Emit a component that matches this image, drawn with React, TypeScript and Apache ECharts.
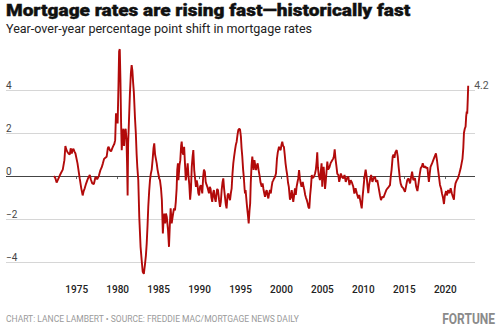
import React, { useEffect, useRef } from "react";
import * as echarts from "echarts";

const title = "Mortgage rates are rising fast—historically fast";
const subtitle = "Year-over-year percentage point shift in mortgage rates";
const footer = "CHART: LANCE LAMBERT • SOURCE: FREDDIE MAC/MORTGAGE NEWS DAILY";
const brand = "FORTUNE";

const xTicks = [1975, 1980, 1985, 1990, 1995, 2000, 2005, 2010, 2015, 2020];
const yTicks = [-4, -2, 0, 2, 4];

const years = [
  1972.24, 1972.4, 1972.55, 1972.7, 1972.9, 1973.05, 1973.3, 1973.5, 1973.62, 1973.72,
  1973.85, 1974.0, 1974.15, 1974.27, 1974.4, 1974.5, 1974.6, 1974.72, 1974.85, 1975.1,
  1975.37, 1975.56, 1975.73, 1975.85, 1975.98, 1976.15, 1976.3, 1976.45, 1976.6, 1976.72,
  1976.9, 1977.1, 1977.3, 1977.5, 1977.7, 1977.9, 1978.05, 1978.2, 1978.35, 1978.5,
  1978.66, 1978.8, 1978.9, 1979.05, 1979.2, 1979.35, 1979.47, 1979.6, 1979.7, 1979.8,
  1979.9, 1980.0, 1980.1, 1980.18, 1980.26, 1980.34, 1980.42, 1980.5, 1980.6, 1980.7,
  1980.78, 1980.88, 1980.98, 1981.08, 1981.15, 1981.22, 1981.28, 1981.35, 1981.5, 1981.62,
  1981.71, 1981.8, 1981.9, 1981.98, 1982.06, 1982.12, 1982.22, 1982.32, 1982.4, 1982.52,
  1982.64, 1982.8, 1982.93, 1983.06, 1983.2, 1983.34, 1983.45, 1983.55, 1983.65, 1983.74,
  1983.85, 1983.95, 1984.05, 1984.16, 1984.28, 1984.38, 1984.47, 1984.57, 1984.67, 1984.77,
  1984.87, 1984.96, 1985.08, 1985.17, 1985.3, 1985.4, 1985.52, 1985.6, 1985.7, 1985.8,
  1985.9, 1986.0, 1986.15, 1986.27, 1986.37, 1986.47, 1986.6, 1986.75, 1986.88, 1987.0,
  1987.1, 1987.2, 1987.28, 1987.36, 1987.42, 1987.55, 1987.65, 1987.75, 1987.82, 1987.92,
  1988.02, 1988.12, 1988.22, 1988.32, 1988.42, 1988.55, 1988.65, 1988.75, 1988.85, 1988.95,
  1989.05, 1989.15, 1989.24, 1989.35, 1989.45, 1989.56, 1989.66, 1989.75, 1989.85, 1989.95,
  1990.05, 1990.15, 1990.25, 1990.33, 1990.45, 1990.54, 1990.65, 1990.75, 1990.85, 1990.95,
  1991.05, 1991.15, 1991.25, 1991.35, 1991.45, 1991.55, 1991.65, 1991.75, 1991.85, 1991.97,
  1992.05, 1992.15, 1992.25, 1992.38, 1992.5, 1992.6, 1992.7, 1992.8, 1992.9, 1993.0,
  1993.1, 1993.2, 1993.3, 1993.42, 1993.52, 1993.62, 1993.72, 1993.82, 1993.92, 1994.02,
  1994.12, 1994.22, 1994.33, 1994.43, 1994.53, 1994.63, 1994.73, 1994.84, 1994.94, 1995.05,
  1995.13, 1995.22, 1995.32, 1995.4, 1995.5, 1995.55, 1995.62, 1995.7, 1995.8, 1995.9,
  1996.0, 1996.1, 1996.18, 1996.25, 1996.35, 1996.44, 1996.52, 1996.6, 1996.7, 1996.8,
  1996.9, 1996.97, 1997.1, 1997.2, 1997.35, 1997.45, 1997.59, 1997.7, 1997.8, 1997.9,
  1997.99, 1998.1, 1998.2, 1998.3, 1998.4, 1998.5, 1998.6, 1998.7, 1998.8, 1998.9,
  1999.0, 1999.1, 1999.2, 1999.33, 1999.45, 1999.55, 1999.7, 1999.8, 1999.9, 2000.0,
  2000.1, 2000.2, 2000.3, 2000.4, 2000.5, 2000.6, 2000.7, 2000.8, 2000.9, 2001.04,
  2001.15, 2001.25, 2001.35, 2001.44, 2001.55, 2001.65, 2001.75, 2001.85, 2001.95, 2002.05,
  2002.15, 2002.25, 2002.35, 2002.45, 2002.6, 2002.7, 2002.8, 2002.9, 2002.99, 2003.1,
  2003.2, 2003.3, 2003.4, 2003.5, 2003.6, 2003.7, 2003.8, 2003.97, 2004.1, 2004.2,
  2004.3, 2004.37, 2004.45, 2004.55, 2004.7, 2004.8, 2004.9, 2004.98, 2005.07, 2005.15,
  2005.25, 2005.32, 2005.4, 2005.5, 2005.6, 2005.7, 2005.85, 2006.0, 2006.15, 2006.3,
  2006.4, 2006.5, 2006.6, 2006.7, 2006.82, 2006.94, 2007.05, 2007.15, 2007.25, 2007.4,
  2007.55, 2007.7, 2007.85, 2008.0, 2008.16, 2008.3, 2008.45, 2008.6, 2008.77, 2008.9,
  2009.05, 2009.2, 2009.38, 2009.5, 2009.65, 2009.8, 2009.9, 2010.0, 2010.1, 2010.2,
  2010.28, 2010.4, 2010.52, 2010.6, 2010.7, 2010.85, 2010.95, 2011.1, 2011.25, 2011.42,
  2011.55, 2011.7, 2011.85, 2012.03, 2012.15, 2012.3, 2012.45, 2012.64, 2012.8, 2012.95,
  2013.1, 2013.25, 2013.35, 2013.45, 2013.58, 2013.68, 2013.8, 2013.9, 2014.07, 2014.2,
  2014.3, 2014.45, 2014.55, 2014.7, 2014.85, 2015.08, 2015.2, 2015.35, 2015.5, 2015.7,
  2015.85, 2015.95, 2016.1, 2016.3, 2016.45, 2016.6, 2016.75, 2016.85, 2017.0, 2017.15,
  2017.25, 2017.4, 2017.55, 2017.7, 2017.82, 2017.92, 2018.0, 2018.1, 2018.2, 2018.4,
  2018.55, 2018.7, 2018.86, 2019.0, 2019.12, 2019.23, 2019.35, 2019.5, 2019.6, 2019.72,
  2019.84, 2019.95, 2020.1, 2020.2, 2020.35, 2020.5, 2020.66, 2020.8, 2020.92, 2021.06,
  2021.15, 2021.25, 2021.4, 2021.55, 2021.7, 2021.88, 2022.0, 2022.1, 2022.2, 2022.28,
  2022.38, 2022.48, 2022.55, 2022.62, 2022.68, 2022.75, 2022.8,
];

const shift = [
  0.0, -0.1, -0.3, -0.18, 0.0, 0.12, 0.3, 0.74, 1.4, 1.25,
  1.13, 1.05, 1.0, 1.29, 1.05, 1.2, 1.27, 1.15, 1.05, 0.59,
  -0.11, -0.57, -0.9, -0.7, -0.57, -0.35, -0.19, -0.05, 0.05, -0.15,
  -0.34, -0.37, -0.03, -0.15, 0.0, 0.28, 0.4, 0.59, 0.8, 0.85,
  0.9, 1.29, 1.36, 1.2, 1.15, 1.3, 1.4, 1.5, 1.67, 2.92,
  2.6, 2.45, 4.2, 5.8, 5.9, 4.5, 2.5, 1.2, 1.9, 2.2,
  1.4, 2.0, 2.2, 1.7, 0.6, -0.9, 1.5, 2.2, 3.85, 4.8,
  5.16, 4.9, 4.3, 3.9, 3.2, 2.68, 2.0, 1.0, 0.43, -0.19,
  -1.89, -3.29, -3.9, -4.45, -4.55, -4.1, -3.7, -3.13, -2.3, -1.43,
  -0.7, -0.19, 0.1, 0.3, 0.8, 1.3, 1.52, 1.0, 0.8, 0.59,
  0.3, 0.12, -0.1, -0.2, -0.6, -1.12, -2.67, -2.1, -1.74, -2.2,
  -1.74, -1.9, -2.5, -3.29, -2.3, -1.5, -2.2, -1.8, -1.5, -1.6,
  -1.2, -0.6, 0.3, 0.59, -0.19, 0.5, 0.74, 1.4, 1.6, 1.1,
  1.0, 1.36, 0.59, -0.2, 0.1, 0.59, 0.0, -0.4, -1.1, -0.65,
  0.43, 0.9, 1.21, 0.28, -0.1, -0.5, -0.2, -0.4, -0.8, -0.9,
  -0.5, -0.42, -0.6, -0.81, 0.0, 0.3, 0.2, -0.27, -0.4, -0.5,
  -0.65, -0.8, -0.5, -0.6, -1.0, -1.2, -0.8, -0.65, -1.0, -1.2,
  -0.9, -0.6, -0.65, -1.1, -1.43, -1.2, -0.65, -0.3, -0.11, -0.6,
  -0.96, -1.3, -1.5, -0.9, -0.81, -1.0, -1.12, -0.8, -0.57, 0.1,
  0.59, 0.9, 1.21, 1.45, 1.6, 1.9, 2.14, 2.2, 2.17, 1.83,
  1.3, 0.9, 0.3, -0.03, -0.6, -0.81, -0.65, -1.0, -1.43, -1.8,
  -2.2, -1.6, -1.27, -0.34, 0.5, 0.9, 0.6, 0.28, 0.74, 0.5,
  0.28, 0.45, 0.59, 0.3, -0.03, -0.3, -0.5, -0.34, -0.6, -0.8,
  -0.96, -0.75, -0.65, -0.9, -1.04, -0.8, -0.65, -0.81, -0.5, -0.27,
  -0.2, -0.11, -0.05, 0.12, 0.8, 1.1, 1.36, 1.25, 1.21, 1.45,
  1.6, 1.4, 1.36, 1.0, 0.59, 0.3, 0.05, -0.3, -0.5, -1.1,
  -1.0, -0.65, -0.9, -1.2, -0.9, -0.57, -0.88, -0.5, -0.3, -0.11,
  0.28, -0.1, -0.34, -0.5, -0.27, -0.5, -0.65, -0.88, -1.0, -1.12,
  -1.27, -1.45, -1.5, -0.9, -0.5, 0.05, -0.1, -0.03, 0.12, 0.3,
  0.7, 1.1, 0.4, 0.05, -0.19, 0.2, 0.59, -0.5, 0.2, 0.43,
  -0.1, -0.6, -0.3, 0.2, 0.67, 0.3, 0.4, 0.6, 0.7, 0.8,
  0.9, 1.24, 0.8, 0.5, 0.1, 0.05, -0.27, -0.1, 0.12, -0.05,
  -0.11, 0.05, -0.27, -0.1, -0.03, -0.42, -0.19, -0.3, -0.5, -0.81,
  -0.57, -0.8, -1.04, -0.88, -1.2, -1.5, -1.0, -0.6, -0.19, 0.1,
  0.3, -0.03, -0.5, -0.8, -0.42, -0.1, 0.05, -0.27, -0.1, -0.03,
  -0.27, -0.19, -0.5, -0.9, -1.12, -0.96, -1.0, -0.81, -0.65, -0.57,
  -0.5, -0.42, 0.0, 0.3, 0.9, 1.0, 0.85, 1.1, 1.21, 0.9,
  0.45, -0.1, -0.34, -0.5, -0.55, -0.73, -0.5, -0.2, -0.11, -0.34,
  0.0, 0.2, -0.19, -0.1, -0.5, -0.7, -0.3, 0.0, 0.36, 0.45,
  0.59, 0.4, 0.45, 0.36, 0.4, 0.0, -0.27, 0.1, 0.43, 0.6,
  0.75, 0.9, 1.05, 0.7, 0.3, -0.03, -0.4, -0.6, -0.81, -1.0,
  -1.3, -0.9, -0.7, -0.9, -0.65, -0.8, -0.57, -0.8, -0.95, -1.1,
  -0.6, -0.34, -0.2, -0.1, 0.1, 0.36, 0.6, 0.8, 1.3, 2.0,
  2.2, 2.3, 2.76, 3.0, 2.9, 3.6, 4.2,
];

const fmtY = (v: number) => (v < 0 ? "\u2212" + Math.abs(v) : String(v));

export default function App() {
  const ref = useRef<HTMLDivElement>(null);
  useEffect(() => {
    if (!ref.current) return;
    const chart = echarts.init(ref.current, null, { renderer: "svg" });
    const data = years.map((y, i) => [y, shift[i]]);
    const gridColor = "#d6d6d6";
    chart.setOption({
      animation: false,
      grid: { left: 6, right: 26, top: 47, bottom: 54 },
      graphic: [
        {
          type: "text",
          x: 6,
          y: 1,
          scaleX: 1.12,
          style: {
            text: title,
            font: "900 17px Roboto",
            fill: "#111",
            stroke: "#111",
            lineWidth: 0.4,
            align: "left",
            verticalAlign: "top",
          },
        },
        {
          type: "text",
          x: 6,
          y: 22,
          scaleX: 0.965,
          style: {
            text: subtitle,
            font: "13px Roboto",
            fill: "#222",
            align: "left",
            verticalAlign: "top",
          },
        },
        {
          type: "text",
          x: 6,
          y: 314,
          style: {
            text: footer,
            font: "8.5px Roboto",
            fill: "#9a9a9a",
            align: "left",
            verticalAlign: "top",
          },
        },
        {
          type: "text",
          x: 495,
          y: 311,
          scaleX: 0.8,
          style: {
            text: brand,
            font: "bold 15px Roboto",
            fill: "#8a8a8a",
            align: "right",
            verticalAlign: "top",
          },
        },
      ],
      xAxis: {
        type: "value",
        min: 1966.37,
        max: 2023.63,
        axisLine: { show: false },
        splitLine: { show: false },
        axisTick: {
          show: true,
          customValues: xTicks,
          length: 3,
          lineStyle: { color: "#666" },
        },
        axisLabel: {
          customValues: xTicks,
          formatter: (v: number) => String(v),
          fontSize: 10,
          fontFamily: "Roboto",
          fontWeight: 500,
          color: "#222",
          margin: 9,
        },
      },
      yAxis: {
        type: "value",
        min: -4.6,
        max: 6,
        axisLine: { show: false },
        axisTick: { show: false },
        splitLine: { show: false },
        axisLabel: {
          customValues: yTicks,
          inside: true,
          align: "left",
          verticalAlign: "bottom",
          margin: 0,
          formatter: fmtY,
          fontSize: 10,
          fontFamily: "Roboto",
          color: "#444",
        },
      },
      series: [
        {
          type: "line",
          data,
          showSymbol: false,
          lineStyle: { color: "#b20a0a", width: 1.9 },
          z: 3,
          endLabel: {
            show: true,
            formatter: (p: any) => p.value[1].toFixed(1),
            color: "#555",
            fontSize: 10.5,
            fontFamily: "Roboto",
            distance: 6,
          },
          markLine: {
            silent: true,
            symbol: "none",
            label: { show: false },
            z: 1,
            data: [
              { yAxis: 4, lineStyle: { color: gridColor, width: 1, type: "solid" } },
              { yAxis: 2, lineStyle: { color: gridColor, width: 1, type: "solid" } },
              { yAxis: -2, lineStyle: { color: gridColor, width: 1, type: "solid" } },
              { yAxis: -4, lineStyle: { color: gridColor, width: 1, type: "solid" } },
              { yAxis: 0, lineStyle: { color: "#444", width: 1, type: "solid" } },
            ],
          },
        },
      ],
    });
    return () => chart.dispose();
  }, []);
  return (
    <div
      ref={ref}
      style={{ position: "absolute", left: 0, top: 0, width: 501, height: 329 }}
    />
  );
}
